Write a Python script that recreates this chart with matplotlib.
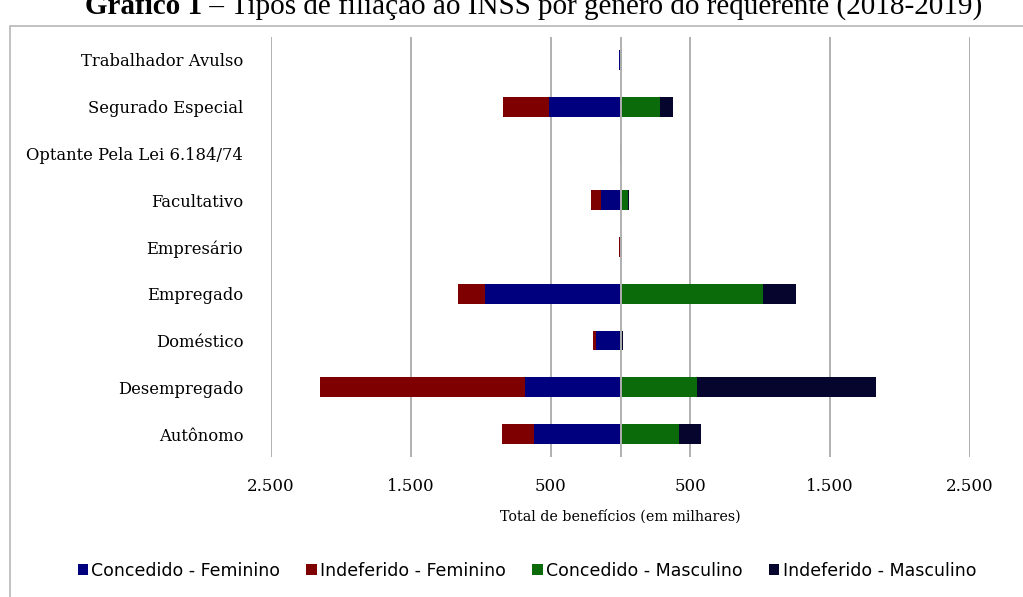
import matplotlib
matplotlib.use('Agg')
import matplotlib.pyplot as plt
from matplotlib.patches import Rectangle
from matplotlib.ticker import FuncFormatter

# categorias (de baixo para cima, como no gráfico)
categorias = ['Autônomo', 'Desempregado', 'Doméstico', 'Empregado', 'Empresário',
              'Facultativo', 'Optante Pela Lei 6.184/74', 'Segurado Especial',
              'Trabalhador Avulso']

# valores em milhares
concedido_fem = [622, 686, 175, 972, 6, 143, 1, 515, 8]
indeferido_fem = [229, 1466, 25, 193, 2, 65, 0, 322, 2]
concedido_masc = [422, 550, 8, 1022, 5, 57, 6, 286, 4]
indeferido_masc = [157, 1280, 12, 236, 4, 6, 1, 93, 4]

series_nomes = ['Concedido - Feminino', 'Indeferido - Feminino',
                'Concedido - Masculino', 'Indeferido - Masculino']
cores = ['#00007f', '#7f0000', '#0b6b0b', '#05052e']

xticks = [-2500, -1500, -500, 500, 1500, 2500]

W, H = 1023, 597
fig = plt.figure(figsize=(W / 100, H / 100), dpi=100)

# moldura do gráfico (cortada na direita e embaixo)
fig.patches.append(Rectangle((10 / W, -0.1), 1.1, 1 - 26 / H + 0.1,
                             transform=fig.transFigure, fill=False,
                             edgecolor='#b8b8b8', linewidth=1.2))

ax_left, ax_right = 271 / W, 970 / W
ax_top, ax_bot = 1 - 36.6 / H, 1 - 457.4 / H
ax = fig.add_axes([ax_left, ax_bot, ax_right - ax_left, ax_top - ax_bot])

y = list(range(len(categorias)))
h = 0.42
neg_cf = [-v for v in concedido_fem]
neg_if = [-v for v in indeferido_fem]
ax.barh(y, neg_cf, height=h, color=cores[0], label=series_nomes[0], zorder=3)
ax.barh(y, neg_if, left=neg_cf, height=h, color=cores[1], label=series_nomes[1], zorder=3)
ax.barh(y, concedido_masc, height=h, color=cores[2], label=series_nomes[2], zorder=3)
ax.barh(y, indeferido_masc, left=concedido_masc, height=h, color=cores[3],
        label=series_nomes[3], zorder=3)

ax.set_xlim(-2500, 2500)
ax.set_ylim(-0.5, len(categorias) - 0.5)
ax.set_xticks(xticks)
ax.xaxis.set_major_formatter(FuncFormatter(lambda v, p: f'{abs(v):,.0f}'.replace(',', '.')))
ax.set_yticks(y)
ax.set_yticklabels(categorias)
for v in xticks:
    ax.axvline(v, color='#b0b0b0', linewidth=1.4, zorder=1)
ax.axvline(0, color='#b0b0b0', linewidth=1.4, zorder=4)

for s in ax.spines.values():
    s.set_visible(False)
ax.tick_params(axis='both', length=0)
ax.tick_params(axis='y', pad=20, labelsize=11.8)
ax.tick_params(axis='x', pad=15, labelsize=12)
for t in ax.get_yticklabels() + ax.get_xticklabels():
    t.set_family('DejaVu Serif')

ax.set_xlabel('Total de benefícios (em milhares)', family='DejaVu Serif',
              fontsize=10.3, labelpad=10)

handles, labels = ax.get_legend_handles_labels()
fig.legend(handles, labels, loc='center', bbox_to_anchor=(0.515, 1 - 571 / H),
           ncol=4, frameon=False, handlelength=0.6, handleheight=0.6,
           handletextpad=0.2, columnspacing=1.5,
           prop={'family': ['Liberation Sans Narrow', 'DejaVu Sans'], 'size': 12.5})

# título (parte superior cortada no original)
title_y = 1 - 14 / H
t1 = fig.text(85 / W, title_y, 'Gráfico 1', ha='left', va='baseline',
              family='Liberation Serif', fontsize=21, fontweight='bold')
fig.canvas.draw()
bb = t1.get_window_extent()
fig.text(bb.x1 / W, title_y, ' – Tipos de filiação ao INSS por gênero do requerente (2018-2019)',
         ha='left', va='baseline', family='Liberation Serif', fontsize=21)

fig.savefig('out.png', dpi=100)
